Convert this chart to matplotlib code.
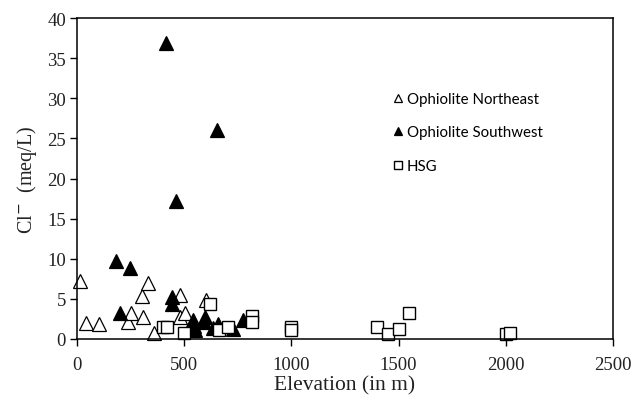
"""Chloride vs elevation scatter for the ophiolite and HSG springs."""

import matplotlib

matplotlib.use("Agg")
import matplotlib.pyplot as plt  # noqa: E402

# Ophiolite Northeast (open triangles)
ne_elev = [14, 42, 104, 239, 252, 301, 309, 329, 357, 480, 482, 503, 600]
ne_cl = [7.2, 1.95, 1.85, 2.15, 3.2, 5.4, 2.8, 6.95, 0.7, 2.8, 5.5, 3.3, 4.8]

# Ophiolite Southwest (filled triangles)
sw_elev = [413, 651, 464, 182, 248, 200, 441, 441, 539, 545, 550, 597, 593,
           658, 635, 729, 776]
sw_cl = [36.9, 26.0, 17.2, 9.7, 8.9, 3.2, 5.2, 4.3, 2.4, 1.6, 1.1, 2.7, 2.1,
         1.9, 1.4, 1.25, 2.4]

# HSG (open squares)
hsg_elev = [399, 421, 500, 620, 660, 702, 818, 818, 1000, 1000, 1400, 1449,
            1500, 1549, 2000, 2018]
hsg_cl = [1.5, 1.5, 0.8, 4.3, 1.15, 1.45, 2.9, 2.1, 1.45, 1.1, 1.45, 0.6,
          1.3, 3.3, 0.6, 0.8]

x_ticks = [0, 500, 1000, 1500, 2000, 2500]
y_ticks = [0, 5, 10, 15, 20, 25, 30, 35, 40]


def main() -> None:
    fig = plt.figure(figsize=(6.42, 4.02), dpi=100)
    ax = fig.add_axes([77 / 642, 1 - 340 / 402, 536 / 642, 321 / 402])

    ax.plot(ne_elev, ne_cl, ls="none", marker="^", ms=9.5, mfc="white",
            mec="black", mew=0.9, label="Ophiolite Northeast", clip_on=False)
    ax.plot(sw_elev, sw_cl, ls="none", marker="^", ms=9.5, mfc="black",
            mec="black", mew=0.9, label="Ophiolite Southwest", clip_on=False)
    ax.plot(hsg_elev, hsg_cl, ls="none", marker="s", ms=8.5, mfc="white",
            mec="black", mew=1.0, label="HSG", clip_on=False)

    ax.set_xlim(0, 2500)
    ax.set_ylim(0, 40)
    ax.set_xticks(x_ticks)
    ax.set_yticks(y_ticks)
    ax.tick_params(direction="out", length=5, width=1, labelsize=13.5,
                   top=False, right=False)
    ax.tick_params(axis="x", pad=7)
    ax.tick_params(axis="y", pad=3)
    for lab in ax.get_xticklabels() + ax.get_yticklabels():
        lab.set_family("Liberation Serif")
        lab.set_color("#222222")
    for sp in ax.spines.values():
        sp.set_linewidth(1.1)

    ax.set_xlabel("Elevation (in m)", family="Liberation Serif", fontsize=15.5,
                  labelpad=2, color="#222222")
    ax.set_ylabel("Cl$^{-}$  (meq/L)", family="Liberation Serif", fontsize=14.5,
                  labelpad=6, color="#222222")

    # legend: small markers, no frame
    leg = ax.legend(loc="upper left", bbox_to_anchor=(0.565, 0.812),
                    frameon=False, handlelength=0.6, handletextpad=0.3,
                    labelspacing=1.3, markerscale=0.62,
                    prop={"family": "Lato", "size": 10.8})
    leg.set_zorder(5)

    fig.savefig("out.png", dpi=100)


if __name__ == "__main__":
    main()
